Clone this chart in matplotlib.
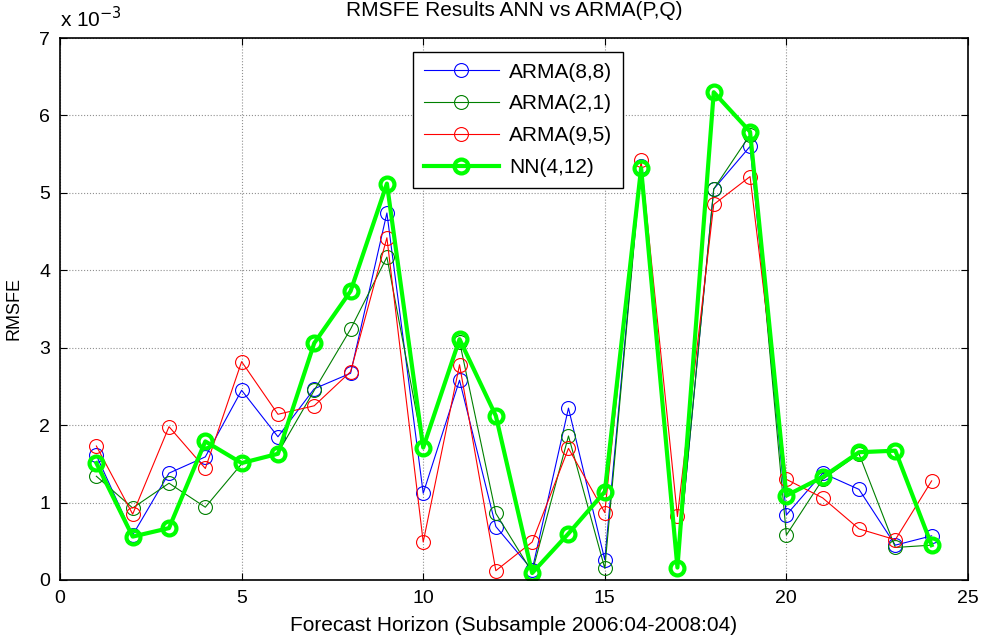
import matplotlib
matplotlib.use("Agg")
import matplotlib.pyplot as plt

plt.rcParams['font.family'] = ['Liberation Sans', 'DejaVu Sans']

# forecast horizon 1..24
horizon = list(range(1, 25))

# RMSFE values (x 10^-3)
arma_88 = [1.61, 0.58, 1.38, 1.59, 2.45, 1.85, 2.47, 2.67, 4.74, 1.12, 2.58, 0.69,
           0.13, 2.22, 0.26, 5.35, 0.16, 5.05, 5.60, 0.84, 1.38, 1.17, 0.45, 0.57]
arma_21 = [1.34, 0.93, 1.25, 0.94, 1.50, 1.64, 2.45, 3.24, 4.17, 1.70, 3.08, 0.86,
           0.10, 1.86, 0.15, 5.33, 0.16, 5.05, 5.75, 0.58, 1.30, 1.63, 0.42, 0.45]
arma_95 = [1.73, 0.85, 1.98, 1.44, 2.82, 2.14, 2.25, 2.69, 4.42, 0.49, 2.78, 0.12,
           0.49, 1.70, 0.87, 5.42, 0.82, 4.85, 5.21, 1.30, 1.06, 0.66, 0.52, 1.28]
nn_412 = [1.51, 0.56, 0.67, 1.79, 1.51, 1.63, 3.06, 3.73, 5.12, 1.71, 3.11, 2.12,
          0.09, 0.60, 1.14, 5.32, 0.16, 6.30, 5.79, 1.09, 1.33, 1.65, 1.67, 0.45]

fig = plt.figure(figsize=(9.86, 6.42), dpi=100)
ax = fig.add_axes([0.0609, 0.0966, 0.9208, 0.8442])

ax.plot(horizon, arma_88, '-o', color='#0000ff', lw=0.8, ms=10, mfc='none', mew=0.8, label='ARMA(8,8)')
ax.plot(horizon, arma_21, '-o', color='#008000', lw=0.8, ms=10, mfc='none', mew=0.8, label='ARMA(2,1)')
ax.plot(horizon, arma_95, '-o', color='#ff0000', lw=0.8, ms=10, mfc='none', mew=0.8, label='ARMA(9,5)')
ax.plot(horizon, nn_412, '-o', color='#00ff00', lw=3, ms=10, mfc='none', mew=3, label='NN(4,12)')

ax.set_xlim(0, 25)
ax.set_ylim(0, 7)
ax.set_xticks(range(0, 26, 5))
ax.set_yticks(range(0, 8))
ax.grid(True, linestyle=':', color='#909090', lw=0.8)
ax.tick_params(direction='in', top=True, right=True, labelsize=14, length=5, pad=7)
for s in ax.spines.values():
    s.set_linewidth(1.2)

ax.set_title('RMSFE Results ANN vs ARMA(P,Q)', fontsize=15, pad=16)
ax.set_xlabel('Forecast Horizon (Subsample 2006:04-2008:04)', fontsize=15, labelpad=7)
ax.set_ylabel('RMSFE', fontsize=13, labelpad=12)
ax.text(0.0, 1.012, r'x 10$^{-3}$', transform=ax.transAxes, fontsize=15, ha='left', va='bottom')

leg = ax.legend(loc='upper left', bbox_to_anchor=(0.389, 0.974), borderaxespad=0,
                fontsize=15, fancybox=False, framealpha=1, edgecolor='black',
                handlelength=3.6, handletextpad=0.5, labelspacing=0.62,
                borderpad=0.5)
leg.get_frame().set_linewidth(1.0)

plt.savefig('out.png', dpi=100)
plt.close()
